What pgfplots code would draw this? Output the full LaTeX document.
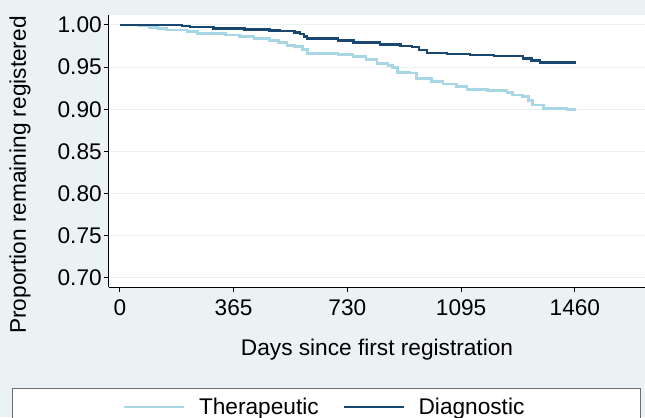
\documentclass[border=0pt]{standalone}
\usepackage{pgfplots}
\pgfplotsset{compat=1.18}
\usepackage{fontspec}
\setmainfont{Liberation Sans}
\definecolor{bgc}{HTML}{EAF2F3}
\definecolor{navyc}{HTML}{1A476F}
\definecolor{ltc}{HTML}{A9D6E5}
\definecolor{boxc}{HTML}{6E6E6E}
\begin{document}
\begin{tikzpicture}
\fill[bgc] (-81.75pt,-97.5pt) rectangle (402pt,215.25pt);
\draw[boxc, line width=0.75pt, fill=white] (-72pt,-75.75pt) rectangle (398.25pt,-130pt);
\begin{axis}[
  at={(0,0)}, anchor=south west,
  scale only axis, width=402pt, height=204pt,
  xmin=-35, xmax=1685, ymin=0.6893, ymax=1.0118,
  axis x line*=bottom, axis y line*=left,
  axis line style={black, line width=0.75pt},
  xtick={0,365,730,1095,1460},
  ytick={0.70,0.75,0.80,0.85,0.90,0.95,1.00},
  tick align=outside, major tick length=3.75pt,
  tick style={black, line width=0.75pt},
  ymajorgrids, grid style={bgc, line width=0.75pt},
  /pgf/number format/assume math mode=true,
  /pgf/number format/1000 sep={},
  yticklabel style={inner xsep=1.5pt, /pgf/number format/fixed, /pgf/number format/fixed zerofill, /pgf/number format/precision=2},
  xticklabel style={yshift=-2pt},
  tick label style={font=\fontsize{17}{20}\selectfont},
  label style={font=\fontsize{17}{20}\selectfont},
  xlabel={Days since first registration},
  ylabel={Proportion remaining registered},
  xlabel style={at={(axis description cs:0.5,-0.232)}, anchor=center},
  ylabel style={at={(axis description cs:-0.166,0.412)}, anchor=center},
  axis background/.style={fill=white},
  legend style={at={(axis description cs:0.403,-0.441)}, anchor=center,
    draw=none, fill=none, font=\fontsize{17}{20}\selectfont,
    /tikz/every even column/.append style={column sep=16pt}},
  legend columns=2,
  legend image code/.code={\draw[#1] (0pt,0pt) -- (45pt,0pt); \path (53pt,0pt);},
]
\addplot[const plot, ltc, line width=2.1pt] coordinates {
(0,1.0) (60,0.999) (96,0.997) (120,0.996) (150,0.994) (215,0.992) (250,0.990)
(311,0.990) (340,0.988) (385,0.986) (430,0.984) (481,0.982) (510,0.979)
(536,0.976) (560,0.974) (587,0.971) (603,0.966) (700,0.9645) (748,0.9625)
(790,0.959) (825,0.9546) (860,0.952) (876,0.950) (892,0.944) (931,0.943)
(953,0.9368) (1000,0.933) (1037,0.930) (1080,0.927) (1114,0.9238) (1180,0.922)
(1242,0.920) (1261,0.917) (1293,0.915) (1310,0.910) (1325,0.905) (1358,0.9009)
(1435,0.900) (1460,0.8985)
};
\addlegendentry{Therapeutic}
\addplot[const plot, navyc, line width=1.9pt] coordinates {
(0,1.000) (180,1.000) (200,0.9985) (225,0.9973) (300,0.996) (400,0.9945)
(480,0.9935) (513,0.9929) (560,0.991) (578,0.9893) (590,0.9865) (600,0.984)
(700,0.9815) (750,0.979) (834,0.977) (900,0.975) (937,0.974) (960,0.9705)
(985,0.967) (1050,0.9655) (1123,0.9645) (1200,0.963) (1293,0.9605) (1320,0.958)
(1348,0.9553) (1460,0.9534)
};
\addlegendentry{Diagnostic}
\end{axis}
\pgfresetboundingbox
\useasboundingbox (-81.75pt,-97.5pt) rectangle (402pt,215.25pt);
\end{tikzpicture}
\end{document}
